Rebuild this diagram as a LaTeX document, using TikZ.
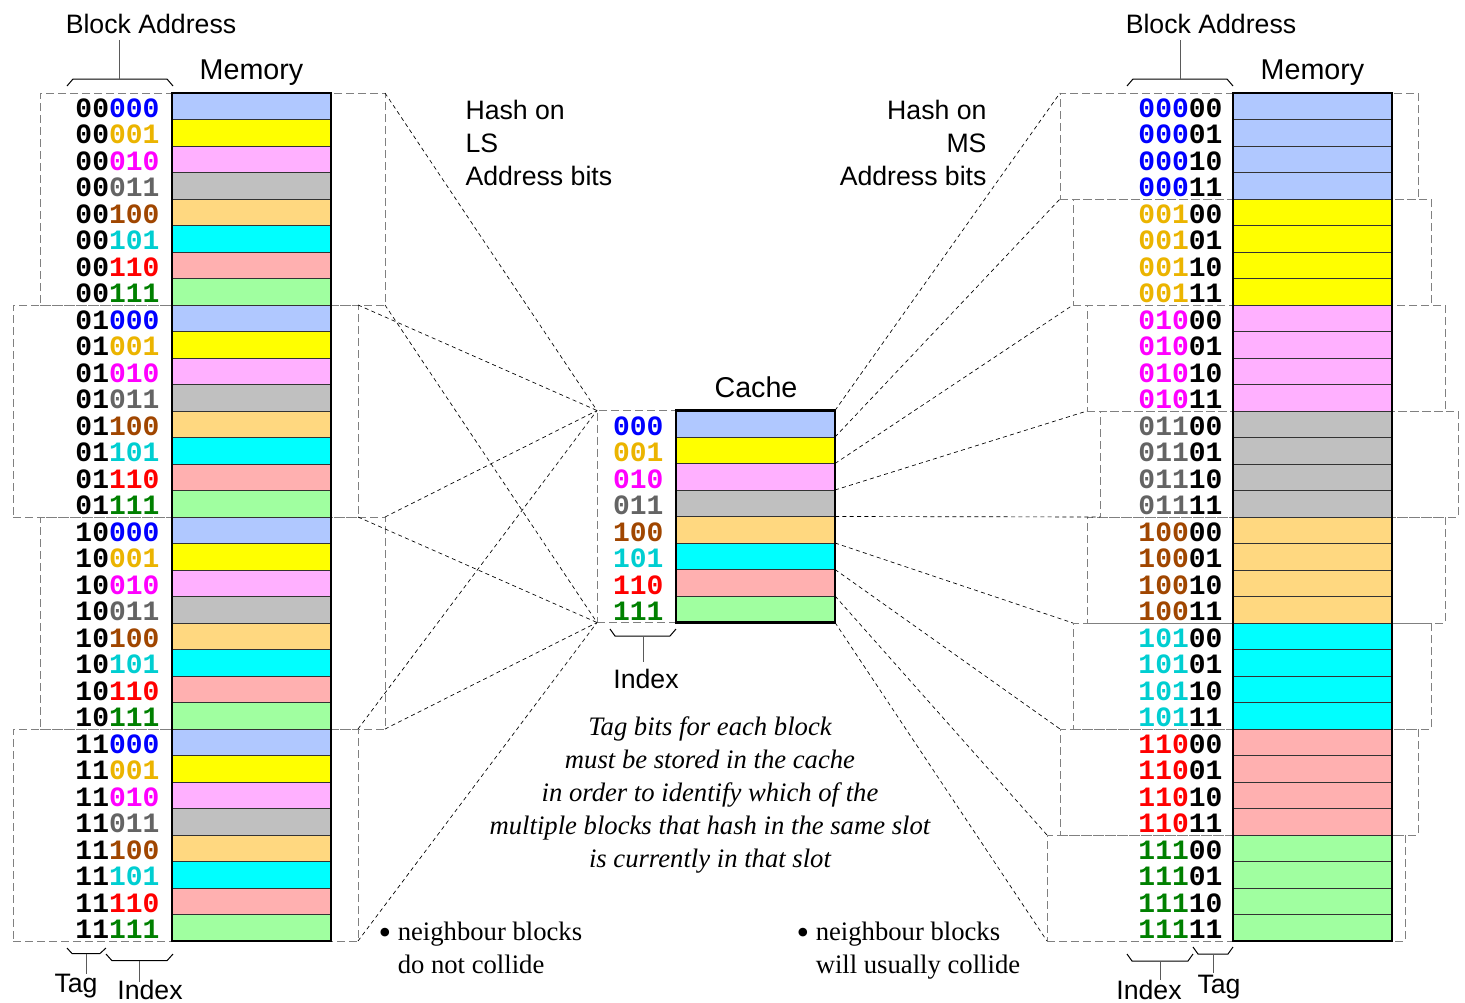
\documentclass[tikz,border=0pt]{standalone}
\usepackage{fontspec}
\setmainfont{Liberation Serif}
\setsansfont{Liberation Sans}
\setmonofont{Liberation Mono}
\usetikzlibrary{fit}

\definecolor{idx0}{RGB}{0,0,255}
\definecolor{idx1}{RGB}{235,180,0}
\definecolor{idx2}{RGB}{255,0,255}
\definecolor{idx3}{RGB}{100,100,100}
\definecolor{idx4}{RGB}{160,70,0}
\definecolor{idx5}{RGB}{0,206,209}
\definecolor{idx6}{RGB}{255,0,0}
\definecolor{idx7}{RGB}{0,128,0}
\definecolor{cel0}{RGB}{176,200,255}
\definecolor{cel1}{RGB}{255,255,0}
\definecolor{cel2}{RGB}{255,176,255}
\definecolor{cel3}{RGB}{192,192,192}
\definecolor{cel4}{RGB}{255,216,128}
\definecolor{cel5}{RGB}{0,255,255}
\definecolor{cel6}{RGB}{255,176,176}
\definecolor{cel7}{RGB}{160,255,160}

\newcommand{\bigdot}{\raisebox{-3.5pt}{\fontsize{27}{24.75}\selectfont\textbullet}}

\tikzset{every picture/.style={line width=0.75pt}}
\tikzset{
  grpbox/.style={draw={rgb, 255:red, 128; green, 128; blue, 128 }, dash pattern={on 6pt off 3pt}, inner sep=0pt, outer sep=0pt},
  link/.style={draw=black, dash pattern={on 3pt off 2.5pt}, line width=0.5pt},
  cell/.style={draw=black!80, line width=0.5pt, inner sep=0pt, outer sep=0pt},
  outline/.style={line width=1.6pt},
  bits/.style={font=\fontsize{21}{21}\ttfamily\bfseries, inner sep=0pt},
  lbl/.style={font=\fontsize{20}{24.75}\sffamily, inner sep=0pt},
  title/.style={font=\fontsize{21.5}{24.75}\sffamily, inner sep=0pt},
  note/.style={font=\fontsize{20}{24.75}\selectfont, inner sep=0pt},
  stem/.style={draw={rgb, 255:red, 90; green, 90; blue, 90 }, line width=0.75pt}
}

\begin{document}
\begin{tikzpicture}[x=0.75pt,y=0.75pt,yscale=-1,xscale=1]
	\useasboundingbox (0,0) rectangle (1465,1003);

	%Shape: Dashed groups, left memory
	\foreach \k/\l in {0/40,1/13,2/40,3/13}
		\node[grpbox, fit={(\l,93+212*\k) (\l+345,305+212*\k)}] (lg\k) {};
	%Shape: Dashed groups, right memory
	\foreach \k/\l in {0/1060,1/1073,2/1087,3/1100,4/1087,5/1073,6/1060,7/1047}
		\node[grpbox, fit={(\l,93+106*\k) (\l+358,199+106*\k)}] (rg\k) {};
	%Shape: Dashed box, cache index
	\node[grpbox, fit={(597,410.5) (676,622.5)}] (cidx) {};

	%Shape: Left memory, low bits index the cache
	\foreach \tg [count=\a from 0] in {00,01,10,11}{
		\foreach \ix [count=\b from 0] in {000,001,010,011,100,101,110,111}{
			\pgfmathtruncatemacro\n{8*\a+\b}
			\node[cell, fill=cel\b, fit={(172,93+26.5*\n) (331,119.5+26.5*\n)}] (ml\n) {};
			\node[bits, anchor=base east] (bl\n) at (160,117+26.5*\n) {\tg\textcolor{idx\b}{\ix}};
		}
	}
	\draw[outline] (ml0.north west) rectangle (ml31.south east);

	%Shape: Right memory, high bits index the cache
	\foreach \ix [count=\b from 0] in {000,001,010,011,100,101,110,111}{
		\foreach \tg [count=\a from 0] in {00,01,10,11}{
			\pgfmathtruncatemacro\n{4*\b+\a}
			\node[cell, fill=cel\b, fit={(1233,93+26.5*\n) (1392,119.5+26.5*\n)}] (mr\n) {};
			\node[bits, anchor=base east] (br\n) at (1223,117+26.5*\n) {\textcolor{idx\b}{\ix}\tg};
		}
	}
	\draw[outline] (mr0.north west) rectangle (mr31.south east);

	%Shape: Cache
	\foreach \ix [count=\b from 0] in {000,001,010,011,100,101,110,111}{
		\node[cell, fill=cel\b, fit={(676,410.5+26.5*\b) (835,437+26.5*\b)}] (c\b) {};
		\node[bits, anchor=base east, text=idx\b] (bc\b) at (664,435+26.5*\b) {\ix};
	}
	\draw[outline] (c0.north west) rectangle (c7.south east);

	%Straight Lines: left groups to cache
	\foreach \k in {0,...,3}{
		\draw[link] (lg\k.north east) -- (cidx.north west);
		\draw[link] (lg\k.south east) -- (cidx.south west);
	}
	%Straight Lines: cache to right groups
	\draw[link] (c0.north east) -- (rg0.north west);
	\draw[link] (c0.south east) -- (rg0.south west);
	\draw[link] (c1.south east) -- (rg1.south west);
	\draw[link] (c2.south east) -- (rg2.south west);
	\draw[link] (c3.south east) -- (rg3.south west);
	\draw[link] (c4.south east) -- (rg5.north west);
	\draw[link] (c5.south east) -- (rg6.north west);
	\draw[link] (c6.south east) -- (rg7.north west);
	\draw[link] (c7.south east) -- (rg7.south west);

	%Braces
	\coordinate (bal) at (119,79);
	\coordinate (bar) at (1180,79);
	\coordinate (tagl) at (86.7,953.5);
	\coordinate (idxl) at (139.3,960.7);
	\coordinate (idxr) at (1160,961);
	\coordinate (tagr) at (1213,954);
	\coordinate (idxc) at (643,636);
	\draw (67,86) -- (73,79) -- (167,79) -- (173,86) ;
	\draw[stem] (bal) -- ++(0,-39) ;
	\draw (1127,86) -- (1133,79) -- (1227,79) -- (1233,86) ;
	\draw[stem] (bar) -- ++(0,-39) ;
	\draw (67,948) -- (72,953.5) -- (100,953.5) -- (106,948) ;
	\draw[stem] (tagl) -- ++(0,20) ;
	\draw (106,954) -- (112,960.7) -- (167,960.7) -- (173,954) ;
	\draw[stem] (idxl) -- ++(0,21) ;
	\draw (1127,954) -- (1132,961) -- (1188,961) -- (1193,954) ;
	\draw[stem] (idxr) -- ++(0,19) ;
	\draw (1193,947) -- (1198,954) -- (1228,954) -- (1233,947) ;
	\draw[stem] (tagr) -- ++(0,19) ;
	\draw (610,629) -- (615,636) -- (670,636) -- (676,629) ;
	\draw[stem] (idxc) -- ++(0,26) ;

	% Text Node
	\node[lbl, anchor=base] (balbl) at (151,33) {Block Address};
	% Text Node
	\node[title, anchor=base] (memllbl) at (251.5,79) {Memory};
	% Text Node
	\node[lbl, anchor=base] (barlbl) at (1211,33) {Block Address};
	% Text Node
	\node[title, anchor=base] (memrlbl) at (1312.5,79) {Memory};
	% Text Node
	\node[title, anchor=base] (cachelbl) at (756,397) {Cache};
	% Text Node
	\node[lbl, anchor=base] (idxclbl) at (646,688) {Index};
	% Text Node
	\node[lbl, anchor=base] (tagllbl) at (76,992) {Tag};
	% Text Node
	\node[lbl, anchor=base] (idxllbl) at (150,999) {Index};
	% Text Node
	\node[lbl, anchor=base] (idxrlbl) at (1149,999) {Index};
	% Text Node
	\node[lbl, anchor=base] (tagrlbl) at (1219,993) {Tag};
	% Text Node
	\node[lbl, anchor=base west, align=left] (lshash) at (465,185) {Hash on\\LS\\Address bits};
	% Text Node
	\node[lbl, anchor=base east, align=right] (mshash) at (987,185) {Hash on\\MS\\Address bits};
	% Text Node
	\node[note, anchor=base, align=center, font=\fontsize{20}{24.75}\itshape] (tagnote) at (710,867) {Tag bits for each block\\must be stored in the cache\\in order to identify which of the\\multiple blocks that hash in the same slot\\is currently in that slot};
	% Text Node
	\node[note, anchor=base west, align=left] (lsnote) at (378,973) {\bigdot\ neighbour blocks\\\phantom{\bigdot\ }do not collide};
	% Text Node
	\node[note, anchor=base west, align=left] (msnote) at (796,973) {\bigdot\ neighbour blocks\\\phantom{\bigdot\ }will usually collide};
\end{tikzpicture}
\end{document}
